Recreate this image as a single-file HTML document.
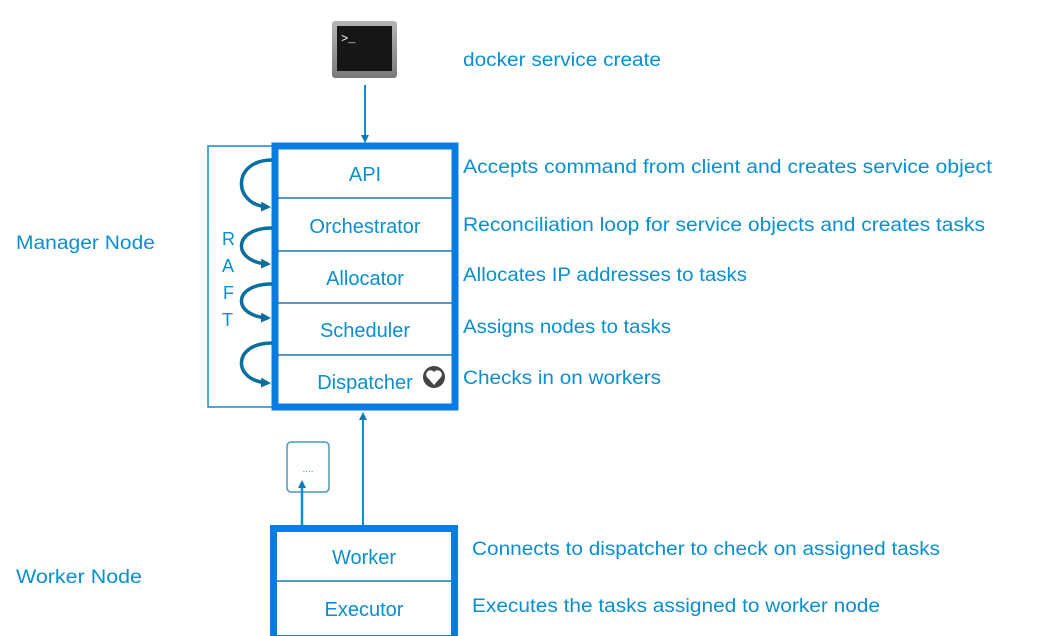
<!DOCTYPE html>
<html><head><meta charset="utf-8"><style>
html,body{margin:0;padding:0;background:#fff;}
svg{display:block}
text{font-family:"Liberation Sans",sans-serif;fill:#0a8fcf;font-size:19px}
.b{font-size:20px}
</style></head><body>
<svg width="1052" height="636" viewBox="0 0 1052 636" xmlns="http://www.w3.org/2000/svg">
<defs>
<marker id="ah" markerWidth="8" markerHeight="8" refX="6" refY="4" orient="auto" markerUnits="userSpaceOnUse">
<path d="M0,0 L8,4 L0,8 Z" fill="#0a7bb8"/></marker>
<marker id="ah2" markerWidth="10" markerHeight="10" refX="7" refY="5" orient="auto" markerUnits="userSpaceOnUse">
<path d="M0,0 L10,5 L0,10 Z" fill="#0a6f9f"/></marker>
<linearGradient id="tg" x1="0" y1="0" x2="0" y2="1"><stop offset="0" stop-color="#b5b5b5"/><stop offset="1" stop-color="#7a7a7a"/></linearGradient>
</defs>
<rect x="332" y="21" width="65" height="57" rx="3" fill="url(#tg)"/>
<rect x="337" y="26" width="55" height="45" fill="#161616"/>
<text x="341" y="42" style="fill:#fff;font-size:12px;font-family:'Liberation Mono',monospace">&gt;_</text>
<line x1="365" y1="85" x2="365" y2="141" stroke="#0a8fcf" stroke-width="2" marker-end="url(#ah)"/>
<text x="463" y="66" textLength="198" lengthAdjust="spacingAndGlyphs">docker service create</text>

<rect x="208" y="146" width="66" height="261" fill="none" stroke="#0a8fcf" stroke-width="1.5"/>
<text x="222" y="245" style="font-size:18px">R</text>
<text x="222" y="272" style="font-size:18px">A</text>
<text x="223" y="299" style="font-size:18px">F</text>
<text x="222" y="326" style="font-size:18px">T</text>

<rect x="275" y="146" width="180" height="261" fill="#fff" stroke="#0a7be0" stroke-width="7"/>
<g stroke="#1a7ab0" stroke-width="1.5">
<line x1="278" y1="198" x2="452" y2="198"/><line x1="278" y1="251" x2="452" y2="251"/>
<line x1="278" y1="303" x2="452" y2="303"/><line x1="278" y1="355" x2="452" y2="355"/>
</g>
<text class="b" x="365" y="181" text-anchor="middle">API</text>
<text class="b" x="365" y="233" text-anchor="middle">Orchestrator</text>
<text class="b" x="365" y="285" text-anchor="middle">Allocator</text>
<text class="b" x="365" y="337" text-anchor="middle">Scheduler</text>
<text class="b" x="365" y="389" text-anchor="middle">Dispatcher</text>
<circle cx="434" cy="377" r="11" fill="#444"/>
<path d="M434,385 L427,377 A4,4 0 0 1 434,372 A4,4 0 0 1 441,377 Z" fill="#fff"/>

<g fill="none" stroke="#0a6f9f" stroke-width="3.5">
<path d="M272,160 C232,160 232,205 268,207" marker-end="url(#ah2)"/>
<path d="M272,228 C232,228 232,262 268,264" marker-end="url(#ah2)"/>
<path d="M272,284 C232,284 232,316 268,318" marker-end="url(#ah2)"/>
<path d="M272,343 C232,343 232,381 268,383" marker-end="url(#ah2)"/>
</g>

<text x="463" y="173" textLength="529" lengthAdjust="spacingAndGlyphs">Accepts command from client and creates service object</text>
<text x="463" y="231" textLength="522" lengthAdjust="spacingAndGlyphs">Reconciliation loop for service objects and creates tasks</text>
<text x="463" y="281" textLength="284" lengthAdjust="spacingAndGlyphs">Allocates IP addresses to tasks</text>
<text x="463" y="333" textLength="208" lengthAdjust="spacingAndGlyphs">Assigns nodes to tasks</text>
<text x="463" y="384" textLength="198" lengthAdjust="spacingAndGlyphs">Checks in on workers</text>

<text x="16" y="249" textLength="139" lengthAdjust="spacingAndGlyphs">Manager Node</text>
<text x="16" y="583" textLength="126" lengthAdjust="spacingAndGlyphs">Worker Node</text>

<line x1="363" y1="525" x2="363" y2="414" stroke="#0a8fcf" stroke-width="2" marker-end="url(#ah)"/>
<rect x="287" y="442" width="42" height="50" rx="4" fill="#fff" stroke="#4a9ab0" stroke-width="1.5"/>
<text x="308" y="472" text-anchor="middle" style="font-size:10px;fill:#4a9ab0">....</text>
<line x1="302" y1="525" x2="302" y2="482" stroke="#0a8fcf" stroke-width="2.5" marker-end="url(#ah)"/>

<rect x="273.5" y="528.5" width="181" height="110" fill="#fff" stroke="#0a7be0" stroke-width="7"/>
<line x1="277" y1="581" x2="451" y2="581" stroke="#1a7ab0" stroke-width="1.5"/>
<text class="b" x="364" y="564" text-anchor="middle">Worker</text>
<text class="b" x="364" y="616" text-anchor="middle">Executor</text>
<text x="472" y="555" textLength="468" lengthAdjust="spacingAndGlyphs">Connects to dispatcher to check on assigned tasks</text>
<text x="472" y="612" textLength="408" lengthAdjust="spacingAndGlyphs">Executes the tasks assigned to worker node</text>
</svg>
</body></html>
